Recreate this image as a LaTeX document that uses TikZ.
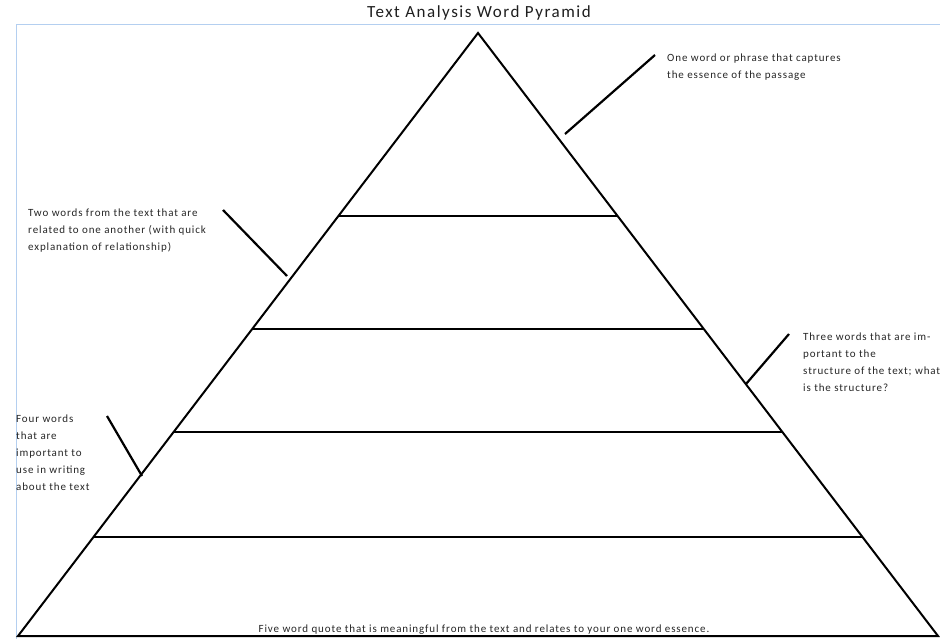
\documentclass[tikz,border=0pt]{standalone}
\usepackage{fontspec}
\setmainfont{Carlito}
\newfontfamily\notefont[LetterSpace=8]{Carlito}
\newfontfamily\headfont[LetterSpace=9]{Carlito}
\usetikzlibrary{calc}
\definecolor{FrameBlue}{HTML}{B4CFF0}
\definecolor{NoteGray}{HTML}{262626}
\definecolor{TitleInk}{HTML}{1E1E1E}

\begin{document}
\begin{tikzpicture}[x=1pt,y=-1pt,
  edge/.style={draw=black,line width=2pt,line join=miter},
  tier/.style={draw=black,line width=1.8pt},
  pointer/.style={draw=black,line width=2.2pt},
  note/.style={anchor=north west,inner sep=0pt,align=left,text=NoteGray,font=\notefont\fontsize{11}{16.8}\selectfont},
  heading/.style={inner sep=0pt,text=TitleInk,font=\headfont\fontsize{17}{20}\selectfont}
]
\useasboundingbox (0,0) rectangle (940,639);
% page frame
\draw[FrameBlue,line width=0.8pt] (16,639) -- (16,24) -- (940,24);
\node[heading] (title) at (479,12.5) {Text Analysis Word Pyramid};

% pyramid outline
\coordinate (apex) at (478,33);
\coordinate (bl) at (18,636);
\coordinate (br) at (938,636);
\draw[edge] (bl) -- (apex) -- (br) -- cycle;

% tiers
\foreach \t/\n in {0.3035/one,0.491/two,0.662/three,0.836/four}
  \draw[tier] ($(apex)!\t!(bl)$) coordinate (\n-l) -- ($(apex)!\t!(br)$) coordinate (\n-r);

% notes
\node[note] (essence) at (667,54) {One word or phrase that captures\\the essence of the passage};
\node[note] (pair) at (28,209) {Two words from the text that are\\related to one another (with quick\\explanation of relationship)};
\node[note] (structure) at (803,333) {Three words that are im-\\portant to the\\structure of the text; what\\is the structure?};
\node[note] (writing) at (16,415) {Four words\\that are\\important to\\use in writing\\about the text};
\node[note,anchor=center] (quote) at (484,629.5) {Five word quote that is meaningful from the text and relates to your one word essence.};

% pointers
\coordinate (p1a) at (565,134); \coordinate (p1b) at (655,55);
\coordinate (p2a) at (287,276); \coordinate (p2b) at (223,210);
\coordinate (p3a) at (746,384); \coordinate (p3b) at (789,334);
\coordinate (p4a) at (142,476); \coordinate (p4b) at (107,416);
\draw[pointer] (p1a) -- (p1b);
\draw[pointer] (p2a) -- (p2b);
\draw[pointer] (p3a) -- (p3b);
\draw[pointer] (p4a) -- (p4b);
\end{tikzpicture}
\end{document}
